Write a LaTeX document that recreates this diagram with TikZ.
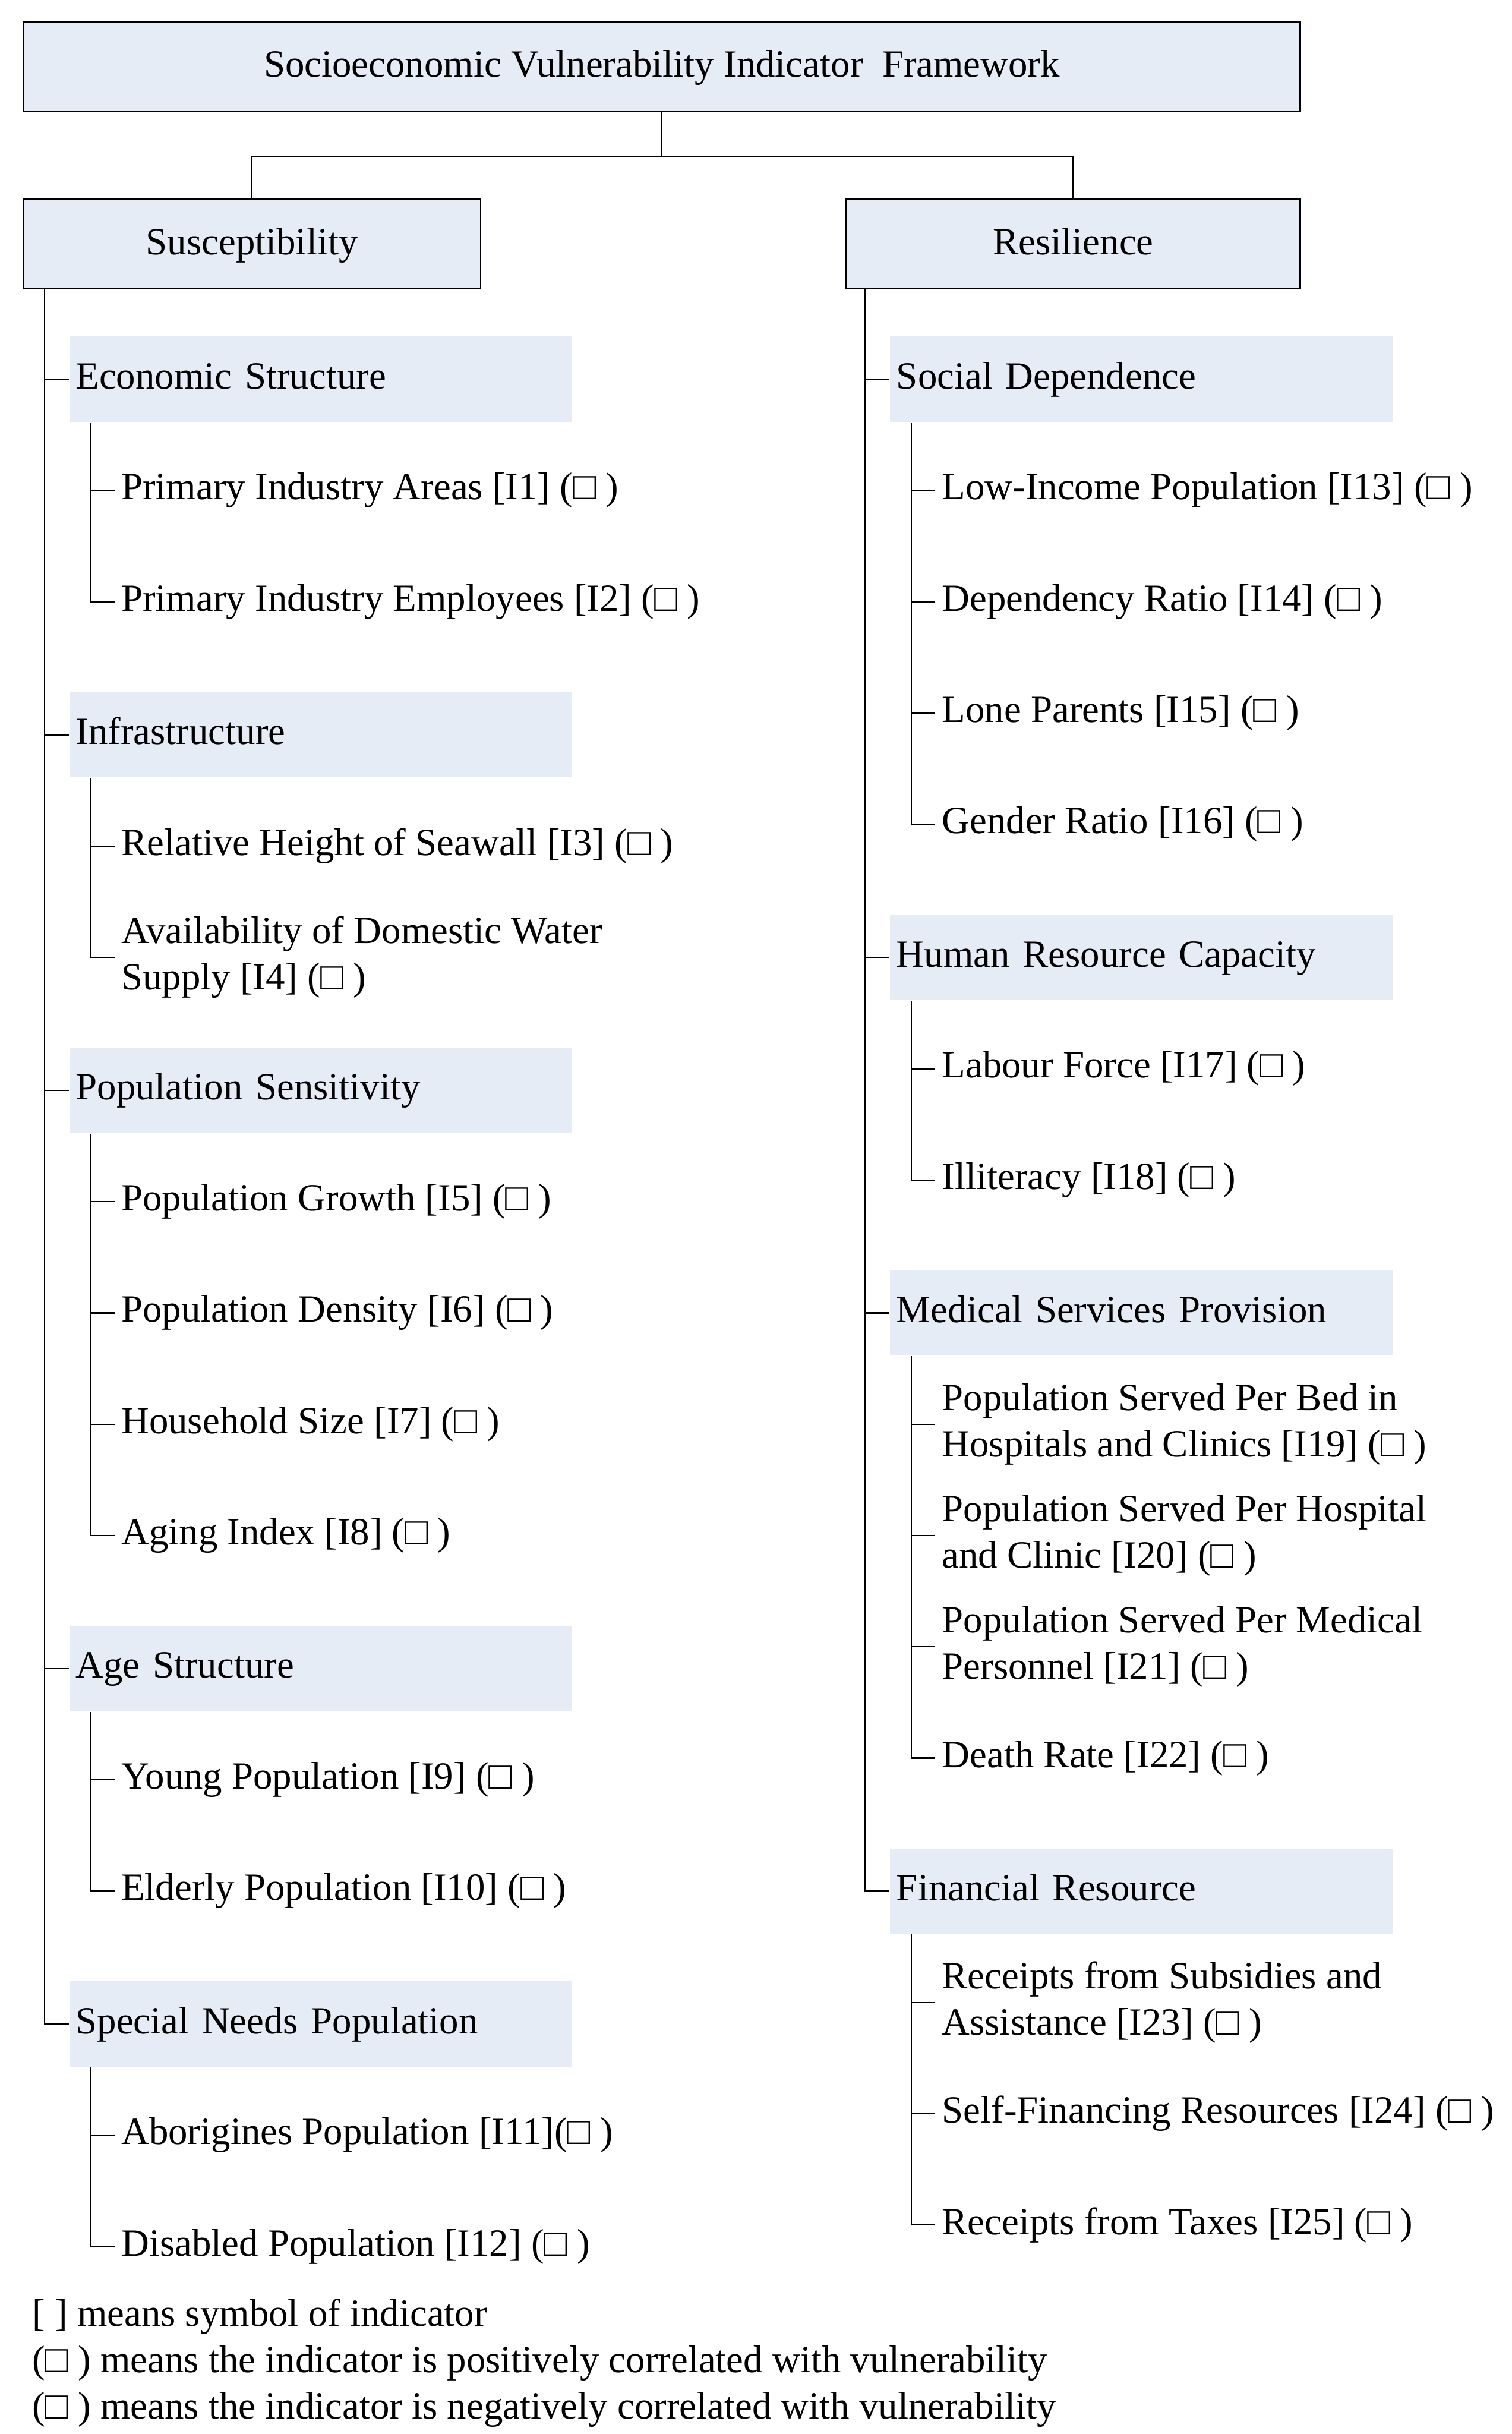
\documentclass[tikz,border=0pt]{standalone}
\usepackage{fontspec}
\setmainfont{Liberation Serif}
\usetikzlibrary{positioning}
\definecolor{boxblue}{RGB}{230,236,246}

\begin{document}
\begin{tikzpicture}[
    node distance=1.147cm,
    every node/.style={font=\fontsize{11.3}{13.6}\selectfont},
    box/.style={rectangle, draw, line width=0.4pt, fill=boxblue, minimum height=0.92cm, text height=0.84em, text depth=0.22em},
    catbox/.style={rectangle, fill=boxblue, minimum height=0.88cm, text width=5.05cm, inner xsep=0.064cm, align=left, text height=0.78em, text depth=0.22em},
    item/.style={inner xsep=0.064cm, align=left},
    link/.style={line width=0.4pt},
]
\useasboundingbox (0,0) rectangle (15.584,-25.082);

%% NODES
    % top
    \node[box, minimum width=13.16cm] (title) at (6.822,-0.685) {Socioeconomic Vulnerability Indicator~ Framework};
    \node[box, minimum width=4.71cm, below=0.893cm of title.south west, anchor=north west] (sus) {Susceptibility};
    \node[box, minimum width=4.68cm, below=0.893cm of title.south east, anchor=north east] (res) {Resilience};

    % susceptibility
    \node[catbox, below right=0.928cm and 0.475cm of sus.south west, anchor=west] (econ) {Economic Structure};
    \node[item, below right=1.147cm and 0.47cm of econ.west, anchor=west] (i1) {Primary Industry Areas [I1] (□ )};
    \node[item, below=of i1.west, anchor=west] (i2) {Primary Industry Employees [I2] (□ )};

    \node[catbox, below left=1.37cm and 0.47cm of i2.west, anchor=west] (infra) {Infrastructure};
    \node[item, below right=1.147cm and 0.47cm of infra.west, anchor=west] (i3) {Relative Height of Seawall [I3] (□ )};
    \node[item, below=of i3.west, anchor=west] (i4) {Availability of Domestic Water\\Supply [I4] (□ )};

    \node[catbox, below left=1.37cm and 0.47cm of i4.west, anchor=west] (popsens) {Population Sensitivity};
    \node[item, below right=1.147cm and 0.47cm of popsens.west, anchor=west] (i5) {Population Growth [I5] (□ )};
    \node[item, below=of i5.west, anchor=west] (i6) {Population Density [I6] (□ )};
    \node[item, below=of i6.west, anchor=west] (i7) {Household Size [I7] (□ )};
    \node[item, below=of i7.west, anchor=west] (i8) {Aging Index [I8] (□ )};

    \node[catbox, below left=1.37cm and 0.47cm of i8.west, anchor=west] (age) {Age Structure};
    \node[item, below right=1.147cm and 0.47cm of age.west, anchor=west] (i9) {Young Population [I9] (□ )};
    \node[item, below=of i9.west, anchor=west] (i10) {Elderly Population [I10] (□ )};

    \node[catbox, below left=1.37cm and 0.47cm of i10.west, anchor=west] (special) {Special Needs Population};
    \node[item, below right=1.147cm and 0.47cm of special.west, anchor=west] (i11) {Aborigines Population [I11](□ )};
    \node[item, below=of i11.west, anchor=west] (i12) {Disabled Population [I12] (□ )};

    % resilience
    \node[catbox, below right=0.928cm and 0.454cm of res.south west, anchor=west] (social) {Social Dependence};
    \node[item, below right=1.147cm and 0.47cm of social.west, anchor=west] (i13) {Low-Income Population [I13] (□ )};
    \node[item, below=of i13.west, anchor=west] (i14) {Dependency Ratio [I14] (□ )};
    \node[item, below=of i14.west, anchor=west] (i15) {Lone Parents [I15] (□ )};
    \node[item, below=of i15.west, anchor=west] (i16) {Gender Ratio [I16] (□ )};

    \node[catbox, below left=1.37cm and 0.47cm of i16.west, anchor=west] (human) {Human Resource Capacity};
    \node[item, below right=1.147cm and 0.47cm of human.west, anchor=west] (i17) {Labour Force [I17] (□ )};
    \node[item, below=of i17.west, anchor=west] (i18) {Illiteracy [I18] (□ )};

    \node[catbox, below left=1.37cm and 0.47cm of i18.west, anchor=west] (medical) {Medical Services Provision};
    \node[item, below right=1.147cm and 0.47cm of medical.west, anchor=west] (i19) {Population Served Per Bed in\\Hospitals and Clinics [I19] (□ )};
    \node[item, below=of i19.west, anchor=west] (i20) {Population Served Per Hospital\\and Clinic [I20] (□ )};
    \node[item, below=of i20.west, anchor=west] (i21) {Population Served Per Medical\\Personnel [I21] (□ )};
    \node[item, below=of i21.west, anchor=west] (i22) {Death Rate [I22] (□ )};

    \node[catbox, below left=1.37cm and 0.47cm of i22.west, anchor=west] (finance) {Financial Resource};
    \node[item, below right=1.147cm and 0.47cm of finance.west, anchor=west] (i23) {Receipts from Subsidies and\\Assistance [I23] (□ )};
    \node[item, below=of i23.west, anchor=west] (i24) {Self-Financing Resources [I24] (□ )};
    \node[item, below=of i24.west, anchor=west] (i25) {Receipts from Taxes [I25] (□ )};

    % legend
    \node[align=left, inner sep=0pt, below left=0.53cm and 0.854cm of i12.west, anchor=north west] (legend) {[ ] means symbol of indicator\\(□ ) means the indicator is positively correlated with vulnerability\\(□ ) means the indicator is negatively correlated with vulnerability};

%% CONNECTIONS
    % framework -> dimensions
    \draw[link] (title.south) -- ++(0,-0.458) -| (sus.north);
    \draw[link] (title.south) -- ++(0,-0.458) -| (res.north);

    % susceptibility -> categories
    \draw[link] ([xshift=0.224cm]sus.south west) |- (econ.west);
    \draw[link] ([xshift=0.224cm]sus.south west) |- (infra.west);
    \draw[link] ([xshift=0.224cm]sus.south west) |- (popsens.west);
    \draw[link] ([xshift=0.224cm]sus.south west) |- (age.west);
    \draw[link] ([xshift=0.224cm]sus.south west) |- (special.west);

    % resilience -> categories
    \draw[link] ([xshift=0.2cm]res.south west) |- (social.west);
    \draw[link] ([xshift=0.2cm]res.south west) |- (human.west);
    \draw[link] ([xshift=0.2cm]res.south west) |- (medical.west);
    \draw[link] ([xshift=0.2cm]res.south west) |- (finance.west);

    % categories -> indicators
    \draw[link] ([xshift=0.224cm]econ.south west) |- (i1.west);
    \draw[link] ([xshift=0.224cm]econ.south west) |- (i2.west);
    \draw[link] ([xshift=0.224cm]infra.south west) |- (i3.west);
    \draw[link] ([xshift=0.224cm]infra.south west) |- (i4.west);
    \draw[link] ([xshift=0.224cm]popsens.south west) |- (i5.west);
    \draw[link] ([xshift=0.224cm]popsens.south west) |- (i6.west);
    \draw[link] ([xshift=0.224cm]popsens.south west) |- (i7.west);
    \draw[link] ([xshift=0.224cm]popsens.south west) |- (i8.west);
    \draw[link] ([xshift=0.224cm]age.south west) |- (i9.west);
    \draw[link] ([xshift=0.224cm]age.south west) |- (i10.west);
    \draw[link] ([xshift=0.224cm]special.south west) |- (i11.west);
    \draw[link] ([xshift=0.224cm]special.south west) |- (i12.west);

    \draw[link] ([xshift=0.224cm]social.south west) |- (i13.west);
    \draw[link] ([xshift=0.224cm]social.south west) |- (i14.west);
    \draw[link] ([xshift=0.224cm]social.south west) |- (i15.west);
    \draw[link] ([xshift=0.224cm]social.south west) |- (i16.west);
    \draw[link] ([xshift=0.224cm]human.south west) |- (i17.west);
    \draw[link] ([xshift=0.224cm]human.south west) |- (i18.west);
    \draw[link] ([xshift=0.224cm]medical.south west) |- (i19.west);
    \draw[link] ([xshift=0.224cm]medical.south west) |- (i20.west);
    \draw[link] ([xshift=0.224cm]medical.south west) |- (i21.west);
    \draw[link] ([xshift=0.224cm]medical.south west) |- (i22.west);
    \draw[link] ([xshift=0.224cm]finance.south west) |- (i23.west);
    \draw[link] ([xshift=0.224cm]finance.south west) |- (i24.west);
    \draw[link] ([xshift=0.224cm]finance.south west) |- (i25.west);

\end{tikzpicture}
\end{document}
